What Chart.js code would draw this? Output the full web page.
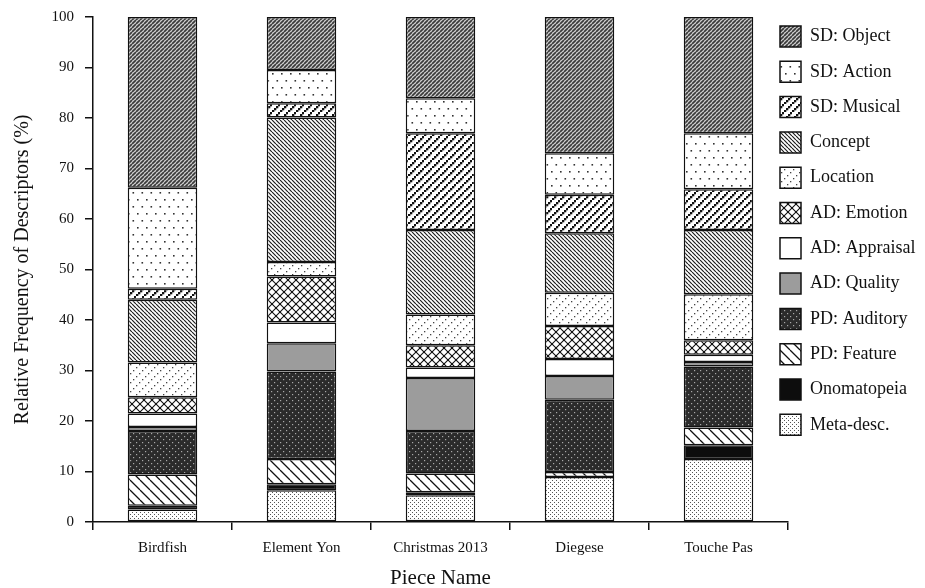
<!DOCTYPE html>
<html>
<head>
<meta charset="utf-8">
<script src="https://cdn.jsdelivr.net/npm/chart.js@4.4.1/dist/chart.umd.min.js"></script>
<style>
    html, body { margin: 0; padding: 0; background: #fff; }
    #wrap { width: 925px; height: 588px; }
</style>
</head>
<body>
<div id="wrap"><canvas id="chartDescriptors"></canvas></div>
<script>
// Categories (x axis)
const pieces = ['Birdfish', 'Element Yon', 'Christmas 2013', 'Diegese', 'Touche Pas'];

// Series values in %, listed from the bottom of each stack upwards
const metaDesc     = [2.5, 6.3, 5.3, 8.9, 12.5];
const onomatopeia  = [0.7, 1.2, 0.6, 0, 2.7];
const pdFeature    = [6.2, 5.0, 3.7, 1.0, 3.5];
const pdAuditory   = [8.6, 17.3, 8.4, 14.3, 12.1];
const adQuality    = [0.8, 5.6, 10.5, 4.7, 0.9];
const adAppraisal  = [2.7, 4.1, 2.1, 3.4, 1.4];
const adEmotion    = [3.2, 9.1, 4.4, 6.5, 2.9];
const locationPct  = [6.9, 2.9, 6.1, 6.6, 9.1];
const concept      = [12.4, 28.6, 16.7, 11.8, 12.7];
const sdMusical    = [2.2, 2.8, 19.2, 7.6, 8.1];
const sdAction     = [20.0, 6.6, 6.9, 8.2, 11.1];
const sdObject     = [33.8, 10.5, 16.1, 27.0, 23.0];

const yMin = 0, yMax = 100, yStep = 10;

const FONT = "'Liberation Serif', 'Times New Roman', serif";
const INK = '#111';

// Pattern helpers
function tile(w, h, bg, draw) {
    const c = document.createElement('canvas');
    c.width = w; c.height = h;
    const g = c.getContext('2d');
    if (bg) { g.fillStyle = bg; g.fillRect(0, 0, w, h); }
    draw(g, w, h);
    return g.createPattern(c, 'repeat');
}

function lines(g, s, dir, color, lw) {
    g.strokeStyle = color;
    g.lineWidth = lw;
    g.beginPath();
    for (let k = -1; k <= 1; k++) {
        if (dir === '/') { g.moveTo(k * s, s); g.lineTo(k * s + s, 0); }
        else { g.moveTo(k * s, 0); g.lineTo(k * s + s, s); }
    }
    g.stroke();
}

const fills = {
    sdObject: tile(4, 4, '#cfcfcf', (g, s) => lines(g, s, '/', '#3a3a3a', 1.7)),
    sdAction: tile(9, 14, '#fff', g => {
        g.fillStyle = '#333';
        g.fillRect(2, 3, 1.6, 1.6);
        g.fillRect(6.5, 10, 1.6, 1.6);
    }),
    sdMusical: tile(8, 8, '#fff', g => {
        g.fillStyle = '#111';
        for (let i = 0; i < 4; i++) g.fillRect(i * 2, 6 - i * 2, 2.3, 2.3);
    }),
    concept: tile(4, 4, '#fff', (g, s) => lines(g, s, '\\', '#1e1e1e', 1.2)),
    location: tile(9, 9, '#fff', g => {
        g.fillStyle = '#444';
        for (let i = 0; i < 3; i++) g.fillRect(3 * i + 1, 7 - 3 * i, 1.3, 1.3);
    }),
    adEmotion: tile(8, 8, '#fff', (g, s) => {
        lines(g, s, '/', '#111', 1.1);
        lines(g, s, '\\', '#111', 1.1);
        g.fillStyle = '#111';
        g.fillRect(3, 3, 2, 2);
        g.fillRect(-1, -1, 2, 2); g.fillRect(7, -1, 2, 2);
        g.fillRect(-1, 7, 2, 2); g.fillRect(7, 7, 2, 2);
    }),
    adAppraisal: '#ffffff',
    adQuality: '#9c9c9c',
    pdAuditory: tile(6, 6, '#2b2b2b', g => {
        g.fillStyle = '#a8a8a8';
        g.fillRect(1, 1, 1.2, 1.2);
        g.fillRect(4, 4, 1.2, 1.2);
    }),
    pdFeature: tile(10, 10, '#fff', (g, s) => lines(g, s, '\\', '#111', 1.3)),
    onomatopeia: '#0d0d0d',
    metaDesc: tile(4, 4, '#fff', g => {
        g.fillStyle = '#555';
        g.fillRect(0, 0, 1, 1);
        g.fillRect(2, 2, 1, 1);
    })
};

function series(label, data, fill) {
    return {
        label: label,
        data: data,
        backgroundColor: fill,
        borderColor: INK,
        borderWidth: 1.5,
        borderSkipped: false,
        barPercentage: 0.5,
        categoryPercentage: 1.0
    };
}

const datasets = [
    series('Meta-desc.', metaDesc, fills.metaDesc),
    series('Onomatopeia', onomatopeia, fills.onomatopeia),
    series('PD: Feature', pdFeature, fills.pdFeature),
    series('PD: Auditory', pdAuditory, fills.pdAuditory),
    series('AD: Quality', adQuality, fills.adQuality),
    series('AD: Appraisal', adAppraisal, fills.adAppraisal),
    series('AD: Emotion', adEmotion, fills.adEmotion),
    series('Location', locationPct, fills.location),
    series('Concept', concept, fills.concept),
    series('SD: Musical', sdMusical, fills.sdMusical),
    series('SD: Action', sdAction, fills.sdAction),
    series('SD: Object', sdObject, fills.sdObject)
];

// legend sits a little over the right end of the x axis, like the original
const legendNudge = {
    id: 'legendNudge',
    afterLayout(chart) {
        const lg = chart.legend;
        const pad = lg.options.labels.padding;
        lg.left = chart.chartArea.right - 8 - pad;
        lg.right = chart.width;
        lg.width = lg.right - lg.left;
        lg.top = chart.chartArea.top + 9 - pad;
    }
};

Chart.defaults.font.family = FONT;
Chart.defaults.color = INK;

const ctx = document.getElementById('chartDescriptors').getContext('2d');
new Chart(ctx, {
    type: 'bar',
    data: { labels: pieces, datasets: datasets },
    plugins: [legendNudge],
    options: {
        responsive: true,
        maintainAspectRatio: false,
        animation: false,
        layout: { padding: { top: 17, left: 0, right: 0, bottom: 0 } },
        plugins: {
            tooltip: { enabled: false },
            legend: {
                position: 'right',
                align: 'start',
                reverse: true,
                maxWidth: 137,
                labels: {
                    boxWidth: 21,
                    boxHeight: 21,
                    padding: 14.3,
                    color: INK,
                    font: { size: 18, family: FONT }
                }
            }
        },
        scales: {
            x: {
                stacked: true,
                afterFit: s => { s.height = 66; },
                grid: {
                    offset: true,
                    drawOnChartArea: false,
                    tickLength: 8,
                    color: INK,
                    lineWidth: 1.5
                },
                border: { color: INK, width: 1.5 },
                ticks: { padding: 9, color: INK, font: { size: 15, family: FONT } },
                title: {
                    display: true,
                    text: 'Piece Name',
                    color: INK,
                    font: { size: 21, family: FONT },
                    padding: { top: 0, bottom: -3 }
                }
            },
            y: {
                stacked: true,
                min: yMin,
                max: yMax,
                afterFit: s => {
                    s.width = 93;
                    s.paddingTop = 0;
                    s.paddingBottom = 0;
                },
                grid: {
                    drawOnChartArea: false,
                    tickLength: 8,
                    color: INK,
                    lineWidth: 1.5
                },
                border: { color: INK, width: 1.5 },
                ticks: { stepSize: yStep, padding: 11, color: INK, font: { size: 15, family: FONT } },
                title: {
                    display: true,
                    text: 'Relative Frequency of Descriptors (%)',
                    color: INK,
                    font: { size: 20, family: FONT },
                    padding: { top: 11, bottom: 0 }
                }
            }
        }
    }
});
</script>
</body>
</html>
